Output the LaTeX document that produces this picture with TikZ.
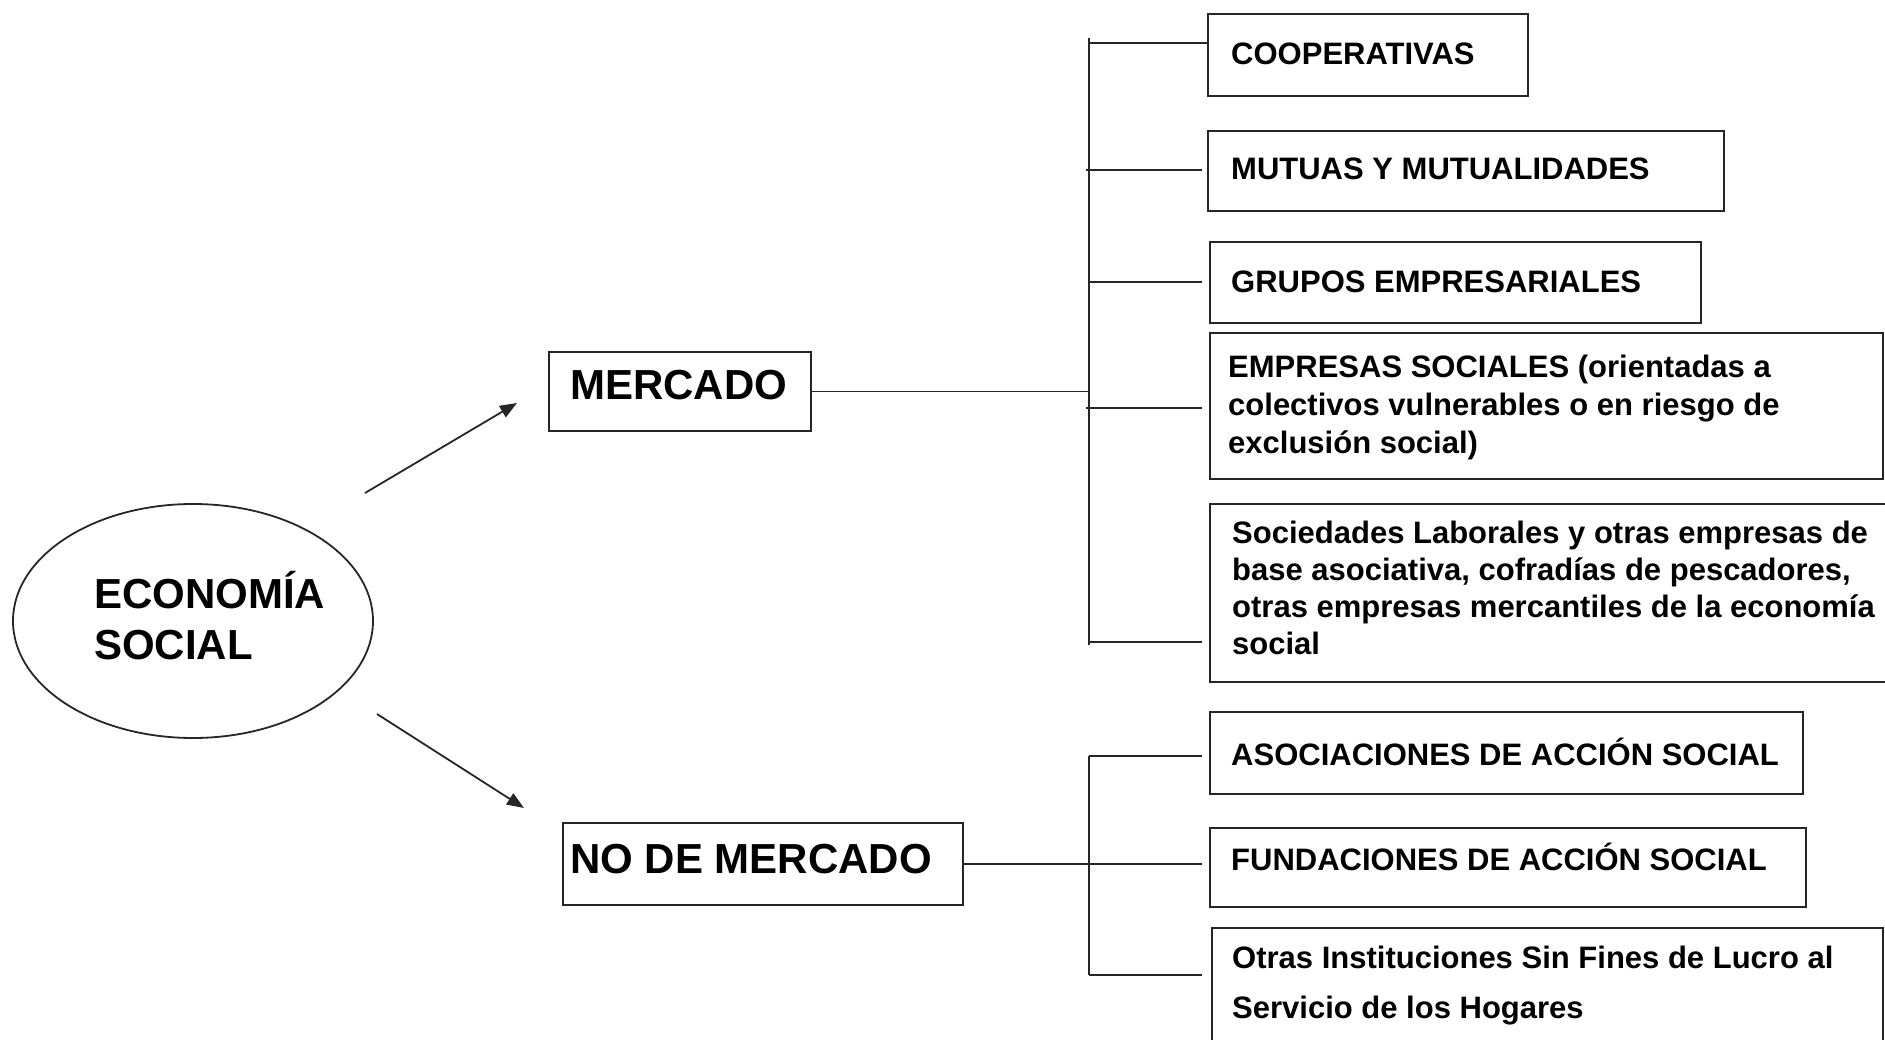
\documentclass[tikz,border=0pt]{standalone}
\usepackage{fontspec}
\setmainfont{Liberation Sans}
\usetikzlibrary{arrows.meta,shapes.geometric}
\begin{document}
\begin{tikzpicture}[x=1pt,y=-1pt,
  ln/.style={line width=1.8pt,draw=black!85},
  boxn/.style={ln,rectangle,inner sep=0pt,outer sep=0pt},
  big/.style={inner sep=0pt,anchor=base west,font=\fontsize{42}{50}\selectfont\bfseries},
  sml/.style={inner sep=0pt,anchor=base west,font=\fontsize{31}{38}\selectfont\bfseries},
  mlt/.style={inner sep=0pt,anchor=north west,align=left},
  arr/.style={ln,-{Triangle[length=17pt,width=13pt]}}]
\useasboundingbox (0,0) rectangle (1885,1040);
% boxes
\node[boxn,ellipse,minimum width=360pt,minimum height=234pt] (eco) at (193,621) {};
\node[boxn,minimum width=262pt,minimum height=79pt] (merc) at (680,391.5) {};
\node[boxn,minimum width=400pt,minimum height=82pt] (ndm) at (763,864) {};
\node[boxn,minimum width=320pt,minimum height=82pt] (coop) at (1368,55) {};
\node[boxn,minimum width=516pt,minimum height=80pt] (mut) at (1466,171) {};
\node[boxn,minimum width=491pt,minimum height=81pt] (grp) at (1455.5,282.5) {};
\node[boxn,minimum width=673pt,minimum height=146pt] (emp) at (1546.5,406) {};
\node[boxn,minimum width=690pt,minimum height=178pt] (soc) at (1555,593) {};
\node[boxn,minimum width=593pt,minimum height=82pt] (aso) at (1506.5,753) {};
\node[boxn,minimum width=596pt,minimum height=79pt] (fun) at (1508,867.5) {};
\node[boxn,minimum width=671pt,minimum height=132pt] (otr) at (1547.5,994) {};
% texts
\node[big] (ecoT) at (94,608) {ECONOMÍA};
\node[big] (ecoT2) at (94,659) {SOCIAL};
\node[big] (mercT) at (570,400) {MERCADO};
\node[big] (ndmT) at (570,873) {NO DE MERCADO};
\node[sml] (coopT) at (1231,65) {COOPERATIVAS};
\node[sml] (mutT) at (1231,180) {MUTUAS Y MUTUALIDADES};
\node[sml] (grpT) at (1231,293) {GRUPOS EMPRESARIALES};
\node[mlt,font=\fontsize{31}{38}\selectfont\bfseries] (empT) at (1228,347) {\rule{0pt}{30pt}EMPRESAS SOCIALES (orientadas a\\colectivos vulnerables o en riesgo de\\exclusión social)};
\node[mlt,font=\fontsize{31}{37}\selectfont\bfseries] (socT) at (1232,513) {\rule{0pt}{30pt}Sociedades Laborales y otras empresas de\\base asociativa, cofradías de pescadores,\\otras empresas mercantiles de la economía\\social};
\node[sml] (asoT) at (1231,765) {ASOCIACIONES DE ACCIÓN SOCIAL};
\node[sml] (funT) at (1231,870) {FUNDACIONES DE ACCIÓN SOCIAL};
\node[mlt,font=\fontsize{31}{50}\selectfont\bfseries] (otrT) at (1232,938) {\rule{0pt}{30pt}Otras Instituciones Sin Fines de Lucro al\\Servicio de los Hogares};
% connector coordinates
\coordinate (t1top) at (1089,38);
\coordinate (t1bot) at (1089,645);
\coordinate (t2top) at (1089,756);
\coordinate (t2bot) at (1089,975);
\coordinate (a1s) at (365,493);
\coordinate (a1e) at (517,403);
\coordinate (a2s) at (377,714);
\coordinate (a2e) at (524,808);
% arrows
\draw[arr] (a1s) -- (a1e);
\draw[arr] (a2s) -- (a2e);
% trunks
\draw[ln] (t1top) -- (t1bot);
\draw[ln] (t2top) -- (t2bot);
\draw[ln] (merc.east) -- (merc.east -| t1top);
\draw[ln] (ndm.east) -- (ndm.east -| 1202,0);
% branches
\draw[ln] (1089,43) -- (coop.west |- 0,43);
\draw[ln] (1086,170) -- (1202,170);
\draw[ln] (1089,282) -- (1202,282);
\draw[ln] (1086,408) -- (1202,408);
\draw[ln] (1089,642) -- (1202,642);
\draw[ln] (t2top) -- (1202,756);
\draw[ln] (t2bot) -- (1202,975);
\end{tikzpicture}
\end{document}
